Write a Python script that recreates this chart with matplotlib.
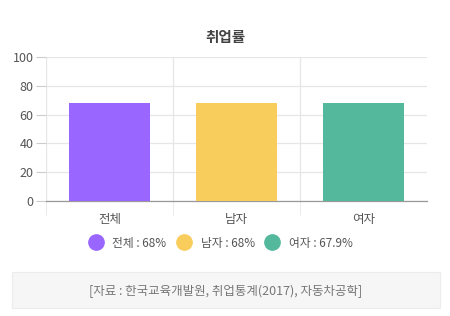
import matplotlib.pyplot as plt
from matplotlib.patches import Rectangle
from matplotlib.lines import Line2D

plt.rcParams['font.family'] = ['Noto Sans CJK KR', 'DejaVu Sans']

categories = ['전체', '남자', '여자']
values = [68, 68, 67.9]
colors = ['#9966ff', '#f9cd5c', '#54b89d']
legend_labels = ['전체 : 68%', '남자 : 68%', '여자 : 67.9%']
title = '취업률'
source = '[자료 : 한국교육개발원, 취업통계(2017), 자동차공학]'

W, H = 450, 316
fig = plt.figure(figsize=(W / 100, H / 100), dpi=100)
ax = fig.add_axes([46 / W, (H - 201) / H, 381 / W, 144 / H])

x = range(len(categories))
ax.bar(x, values, width=0.64, color=colors, zorder=3)

ax.set_xlim(-0.5, len(categories) - 0.5)
ax.set_ylim(0, 100)
ax.set_yticks([0, 20, 40, 60, 80, 100])
ax.set_xticks(list(x))
ax.set_xticklabels(categories)
ax.set_xticks([-0.5, 0.5, 1.5], minor=True)

ax.grid(axis='y', color='#e6e6e6', linewidth=0.9, zorder=0)
ax.grid(axis='x', which='minor', color='#e6e6e6', linewidth=0.9, zorder=0)
ax.tick_params(axis='y', length=7, color='#cccccc', labelsize=9, labelcolor='#555555', pad=2)
ax.tick_params(axis='x', which='major', length=0, labelsize=9, labelcolor='#555555', pad=9)
ax.tick_params(axis='x', which='minor', length=10, color='#e6e6e6')

for s in ['top', 'right', 'left']:
    ax.spines[s].set_visible(False)
ax.spines['bottom'].set_color('#999999')
ax.spines['bottom'].set_linewidth(0.9)

fig.text(0.5, 1 - 37 / H, title, ha='center', va='center', fontsize=10.5,
         fontweight='bold', color='#444444')

handles = [Line2D([], [], marker='o', linestyle='', markersize=11,
                  markerfacecolor=c, markeredgecolor=c) for c in colors]
fig.legend(handles, legend_labels, loc='center', bbox_to_anchor=(0.488, 1 - 243 / H),
           ncol=3, frameon=False, fontsize=8.5, handletextpad=0.6, columnspacing=0.7,
           handlelength=1.6, labelcolor='#555555')

fig.patches.append(Rectangle((12 / W, (H - 308) / H), 428 / W, 36 / H,
                             transform=fig.transFigure, facecolor='#f6f6f6',
                             edgecolor='#ececec', linewidth=0.8))
fig.text(226 / W, 1 - 291 / H, source, ha='center', va='center', fontsize=9,
         color='#777777')

fig.savefig('out.png', dpi=100)
